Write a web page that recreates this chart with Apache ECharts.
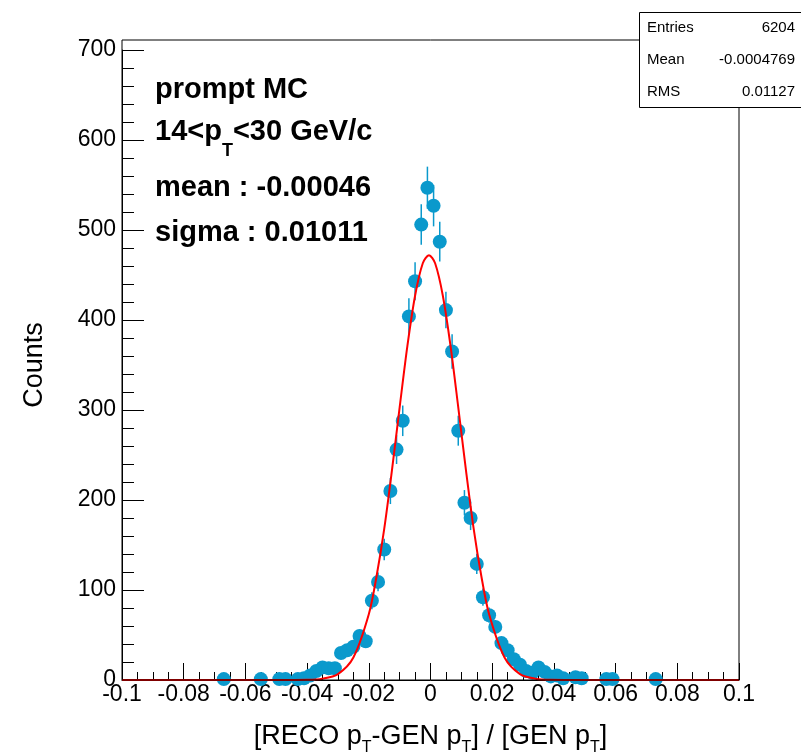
<!DOCTYPE html>
<html>
<head>
<meta charset="utf-8">
<script src="https://cdn.jsdelivr.net/npm/echarts@6/dist/echarts.min.js"></script>
<style>
  html, body { margin: 0; padding: 0; background: #fff; }
  #chart { width: 801px; height: 752px; }
</style>
</head>
<body>
<div id="chart"></div>
<script>
// histogram bins (centre, counts) - only non-empty bins are drawn
const binCenters = [
  -0.067, -0.055, -0.049, -0.047, -0.043, -0.041, -0.039, -0.037, -0.035, -0.033,
  -0.031, -0.029, -0.027, -0.025, -0.023, -0.021, -0.019, -0.017, -0.015, -0.013,
  -0.011, -0.009, -0.007, -0.005, -0.003, -0.001, 0.001, 0.003, 0.005, 0.007,
  0.009, 0.011, 0.013, 0.015, 0.017, 0.019, 0.021, 0.023, 0.025, 0.027,
  0.029, 0.031, 0.033, 0.035, 0.037, 0.039, 0.041, 0.043, 0.047, 0.049,
  0.057, 0.059, 0.073,
];
const counts = [
  1, 1, 1, 1, 1, 2, 5, 10, 14, 13,
  13, 30, 33, 37, 49, 43, 88, 109, 145, 210,
  256, 288, 404, 443, 506, 547, 527, 487, 411, 365,
  277, 197, 180, 129, 92, 72, 59, 41, 33, 23,
  17, 10, 8, 14, 9, 4, 5, 2, 3, 2,
  1, 1, 1,
];

// gaussian fit curve
const fitX = [
  -0.1, -0.05, -0.04, -0.035, -0.03, -0.025, -0.02, -0.0175, -0.015, -0.0125,
  -0.01, -0.0075, -0.005, -0.0025, -0.0005, 0.0015, 0.004, 0.0065, 0.009, 0.0115,
  0.014, 0.0165, 0.019, 0.024, 0.029, 0.034, 0.039, 0.05, 0.1,
];
const fitY = [
  0, 0, 0.2, 1.4, 6.6, 25, 73, 115, 168, 233,
  303, 371, 427, 463, 472, 463, 427, 371, 303, 233,
  168, 115, 73, 25, 6.6, 1.4, 0.2, 0, 0,
];

const statRows = [
  ["Entries", "6204"],
  ["Mean", "-0.0004769"],
  ["RMS", "0.01127"],
];
const infoLines = ["prompt MC", "14<p{s|T}<30 GeV/c", "mean : -0.00046", "sigma : 0.01011"];

const FONT = "Liberation Sans";
const BLUE = "#0a99cc";

let myChart = echarts.init(document.getElementById("chart"));

let points = binCenters.map((x, i) => [x, counts[i]]);
let fit = fitX.map((x, i) => [x, fitY[i]]);

let graphics = [
  // frame
  {
    type: "rect",
    shape: { x: 122, y: 40, width: 617, height: 640 },
    style: { fill: null, stroke: "#000", lineWidth: 1 },
    z: 10,
  },
  // stat box
  {
    type: "rect",
    shape: { x: 639.5, y: 12.5, width: 170, height: 95 },
    style: { fill: "#fff", stroke: "#000", lineWidth: 1 },
    z: 20,
  },
];
statRows.forEach(([k, v], i) => {
  graphics.push({
    type: "text",
    x: 647,
    y: 28 + i * 32,
    z: 21,
    style: { text: k, font: `15px "${FONT}"`, fill: "#000", verticalAlign: "middle" },
  });
  graphics.push({
    type: "text",
    x: 795,
    y: 28 + i * 32,
    z: 21,
    style: { text: v, font: `15px "${FONT}"`, fill: "#000", align: "right", verticalAlign: "middle" },
  });
});
infoLines.forEach((t, i) => {
  let ys = [75, 117, 173, 218];
  graphics.push({
    type: "text",
    x: 155,
    y: ys[i],
    z: 21,
    style: {
      text: t.includes("{s|") ? t.replace(/^(.*?)\{s\|T\}(.*)$/, "{b|$1}{s|T}{b|$2}") : "{b|" + t + "}",
      rich: {
        b: { fontFamily: FONT, fontSize: 29, fontWeight: "bold", verticalAlign: "top", lineHeight: 32 },
        s: { fontFamily: FONT, fontSize: 18, fontWeight: "bold", verticalAlign: "top", padding: [25, 0, 0, 0] },
      },
    },
  });
});

let option = {
  animation: false,
  backgroundColor: "#fff",
  grid: {
    left: 122,
    right: 62,
    top: 50,
    bottom: 72,
    show: false,
    containLabel: false,
    outerBoundsMode: "none",
  },
  xAxis: {
    type: "value",
    min: -0.1,
    max: 0.1,
    interval: 0.02,
    name: "{n|[RECO p}{s|T}{n|-GEN p}{s|T}{n|] / [GEN p}{s|T}{n|]}",
    nameLocation: "middle",
    nameGap: 43,
    nameTextStyle: {
      rich: {
        n: { fontFamily: FONT, fontSize: 27, color: "#000", verticalAlign: "top", lineHeight: 30 },
        s: { fontFamily: FONT, fontSize: 16, color: "#000", verticalAlign: "top", padding: [17, 0, 0, 0] },
      },
    },
    axisLine: { show: true, onZero: false, lineStyle: { color: "#000", width: 1 } },
    axisTick: { show: true, inside: true, length: 17, lineStyle: { color: "#000" } },
    minorTick: { show: true, splitNumber: 4, length: 8, lineStyle: { color: "#000" } },
    splitLine: { show: false },
    axisLabel: {
      fontFamily: FONT,
      fontSize: 23,
      color: "#000",
      margin: 3,
      formatter: function (value) {
        return `${+value.toFixed(2)}`;
      },
    },
  },
  yAxis: {
    type: "value",
    min: 0,
    max: 700,
    interval: 100,
    name: "Counts",
    nameLocation: "middle",
    nameGap: 74,
    nameTextStyle: { fontFamily: FONT, fontSize: 27, color: "#000" },
    axisLine: { show: true, onZero: false, lineStyle: { color: "#000", width: 1 } },
    axisTick: { show: true, inside: true, length: 22, lineStyle: { color: "#000" } },
    minorTick: { show: true, splitNumber: 5, length: 12, lineStyle: { color: "#000" } },
    splitLine: { show: false },
    axisLabel: {
      fontFamily: FONT,
      fontSize: 23,
      color: "#000",
      margin: 6,
      verticalAlign: "middle",
      verticalAlignMinLabel: "middle",
      verticalAlignMaxLabel: "middle",
    },
  },
  series: [
    {
      name: "errors",
      type: "custom",
      z: 2,
      data: points,
      renderItem: function (params, api) {
        let x = api.value(0);
        let y = api.value(1);
        let e = Math.sqrt(y);
        let top = api.coord([x, y + e]);
        let bottom = api.coord([x, Math.max(y - e, 0)]);
        return {
          type: "line",
          shape: { x1: top[0], y1: top[1], x2: bottom[0], y2: bottom[1] },
          style: { stroke: BLUE, lineWidth: 1.5 },
        };
      },
    },
    {
      name: "counts",
      type: "scatter",
      z: 3,
      symbol: "circle",
      symbolSize: 14,
      itemStyle: { color: BLUE, opacity: 1 },
      data: points,
    },
    {
      name: "fit",
      type: "line",
      z: 4,
      smooth: 0.3,
      showSymbol: false,
      lineStyle: { color: "#ff0000", width: 2 },
      data: fit,
    },
  ],
  graphic: graphics,
};

option && myChart.setOption(option);
</script>
</body>
</html>
